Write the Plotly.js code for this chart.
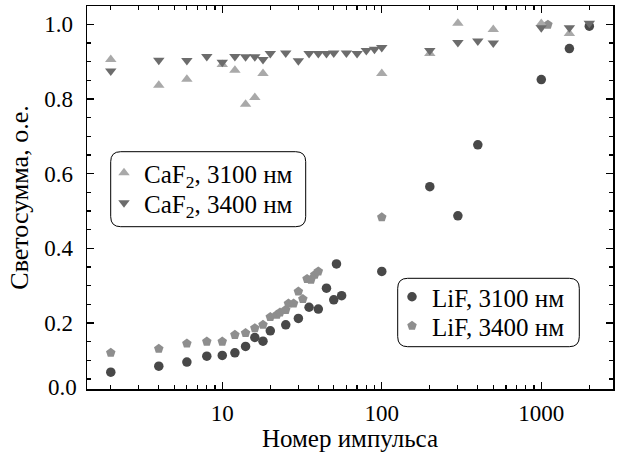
<!DOCTYPE html>
<html>
<head>
<meta charset="utf-8">
<script src="https://cdn.plot.ly/plotly-3.0.1.min.js"></script>
<style>html,body{margin:0;padding:0;background:#fff;}#chart{width:618px;height:452px;}</style>
</head>
<body>
<div id="chart"></div>
<script>
// ---- data ----
var lif3100_x = [2,4,6,8,10,12,14,16,18,20,25,30,35,40,45,50,52,56,100,200,300,400,1000,1500,2000];
var lif3100_y = [0.068,0.084,0.095,0.111,0.113,0.120,0.137,0.161,0.151,0.179,0.195,0.212,0.242,0.237,0.293,0.262,0.358,0.273,0.338,0.565,0.487,0.677,0.852,0.935,0.995];

var lif3400_x = [2,4,6,8,10,12,14,16,18,20,22,23,25,26,28,30,32,34,36,38,40,100,1100];
var lif3400_y = [0.120,0.131,0.145,0.150,0.150,0.168,0.173,0.186,0.195,0.216,0.222,0.228,0.235,0.252,0.252,0.284,0.264,0.318,0.316,0.329,0.338,0.483,0.999];

var caf3100_x = [2,4,6,10,12,14,16,18,100,200,300,500,1000,1500];
var caf3100_y = [0.906,0.837,0.853,0.892,0.877,0.786,0.804,0.868,0.868,0.922,1.003,0.986,1.002,0.975];

var caf3400_x = [2,4,6,8,10,12,14,16,18,20,25,30,35,40,45,50,60,70,80,90,100,200,300,400,500,1000,1500,2000];
var caf3400_y = [0.875,0.904,0.903,0.914,0.898,0.914,0.913,0.913,0.906,0.922,0.923,0.902,0.922,0.922,0.922,0.923,0.923,0.922,0.930,0.933,0.938,0.930,0.951,0.955,0.950,0.991,0.991,1.003];

var names = ["LiF, 3100 нм", "LiF, 3400 нм", "CaF<sub>2</sub>, 3100 нм", "CaF<sub>2</sub>, 3400 нм"];
var xTickVals = [10, 100, 1000];
var xTickText = ["10", "100", "1000"];
var yTickVals = [0.2, 0.4, 0.6, 0.8, 1.0];
var yTickText = ["0.2", "0.4", "0.6", "0.8", "1.0"];

// ---- styling ----
var FONT = "Liberation Serif, Times New Roman, serif";
var TICK_SIZE = 23, TITLE_SIZE = 25, LEG_SIZE = 25;
var W = 618, H = 452;
var L = 87, R = 5, T = 6, B = 63;
var pw = W - L - R, ph = H - T - B;
function px(x){ return (x - L) / pw; }
function py(y){ return (H - B - y) / ph; }
function roundRect(x0, y0, x1, y1, r){
  var rx = r / pw, ry = r / ph;
  var a = px(x0), b = px(x1), c = py(y1), d = py(y0);
  return "M" + (a+rx) + "," + d + " L" + (b-rx) + "," + d +
         " Q" + b + "," + d + " " + b + "," + (d-ry) +
         " L" + b + "," + (c+ry) +
         " Q" + b + "," + c + " " + (b-rx) + "," + c +
         " L" + (a+rx) + "," + c +
         " Q" + a + "," + c + " " + a + "," + (c+ry) +
         " L" + a + "," + (d-ry) +
         " Q" + a + "," + d + " " + (a+rx) + "," + d + " Z";
}
function leg(xp, yp){
  return {x: px(xp), y: py(yp), xanchor: "left", yanchor: "top",
          bgcolor: "rgba(0,0,0,0)", borderwidth: 0,
          font: {family: FONT, size: LEG_SIZE, color: "#000"}, itemsizing: "trace"};
}

var minorX = [];
[1, 10, 100, 1000].forEach(function(d){
  for (var k = 2; k <= 9; k++){ minorX.push(k*d); }
});

var traces = [
  {x: lif3100_x, y: lif3100_y, name: names[0], mode: "markers", type: "scatter", legend: "legend3",
   marker: {symbol: "circle", size: 9.5, color: "#484848"}},
  {x: lif3400_x, y: lif3400_y, name: names[1], mode: "markers", type: "scatter", legend: "legend4",
   marker: {symbol: "pentagon", size: 10, color: "#8e8e8e"}},
  {x: caf3100_x, y: caf3100_y, name: names[2], mode: "markers", type: "scatter", legend: "legend",
   marker: {symbol: "triangle-up", size: 10, color: "#a9a9a9"}},
  {x: caf3400_x, y: caf3400_y, name: names[3], mode: "markers", type: "scatter", legend: "legend2",
   marker: {symbol: "triangle-down", size: 10, color: "#6c6c6c"}}
];

var layout = {
  width: W, height: H,
  margin: {l: L, r: R, t: T, b: B, pad: 0},
  paper_bgcolor: "#fff", plot_bgcolor: "#fff",
  font: {family: FONT, size: TICK_SIZE, color: "#000"},
  showlegend: true,
  xaxis: {
    type: "log", range: [0.152, 3.4495],
    tickmode: "array", tickvals: xTickVals, ticktext: xTickText,
    ticks: "inside", ticklen: 7, tickwidth: 1.3, tickcolor: "#000",
    minor: {tickmode: "array", tickvals: minorX, ticks: "inside", ticklen: 4, tickwidth: 1.2, tickcolor: "#000", showgrid: false},
    showline: true, linecolor: "#000", linewidth: 1.5, mirror: "allticks",
    showgrid: false, zeroline: false,
    tickfont: {family: FONT, size: TICK_SIZE, color: "#000"},
    ticklabelstandoff: 3,
    title: {text: "Номер импульса", font: {family: FONT, size: TITLE_SIZE, color: "#000"}, standoff: 2}
  },
  yaxis: {
    range: [0.023, 1.049],
    tickmode: "array", tickvals: yTickVals, ticktext: yTickText,
    ticks: "inside", ticklen: 7, tickwidth: 1.3, tickcolor: "#000",
    minor: {dtick: 0.05, tick0: 0, ticks: "inside", ticklen: 4, tickwidth: 1.2, tickcolor: "#000", showgrid: false},
    showline: true, linecolor: "#000", linewidth: 1.5, mirror: "allticks",
    showgrid: false, zeroline: false,
    tickfont: {family: FONT, size: TICK_SIZE, color: "#000"},
    ticklabelstandoff: 8,
    title: {text: "Светосумма, о.е.", font: {family: FONT, size: 26, color: "#000"}, standoff: 8}
  },
  legend: leg(104, 150),
  legend2: leg(104, 180),
  legend3: leg(392, 274),
  legend4: leg(392, 303),
  shapes: [
    {type: "path", xref: "paper", yref: "paper", path: roundRect(110.7, 151.7, 305.7, 226.7, 10),
     line: {color: "#000", width: 1}, fillcolor: "rgba(0,0,0,0)", layer: "above"},
    {type: "path", xref: "paper", yref: "paper", path: roundRect(397.7, 278.3, 579.3, 346.7, 10),
     line: {color: "#000", width: 1}, fillcolor: "rgba(0,0,0,0)", layer: "above"}
  ],
  annotations: [
    {xref: "paper", yref: "paper", x: 0, y: 0, xanchor: "right", yanchor: "middle",
     xshift: -8, yshift: 2, text: "0.0", showarrow: false,
     font: {family: FONT, size: TICK_SIZE, color: "#000"}}
  ]
};

Plotly.newPlot("chart", traces, layout, {displayModeBar: false, staticPlot: true});
</script>
</body>
</html>
